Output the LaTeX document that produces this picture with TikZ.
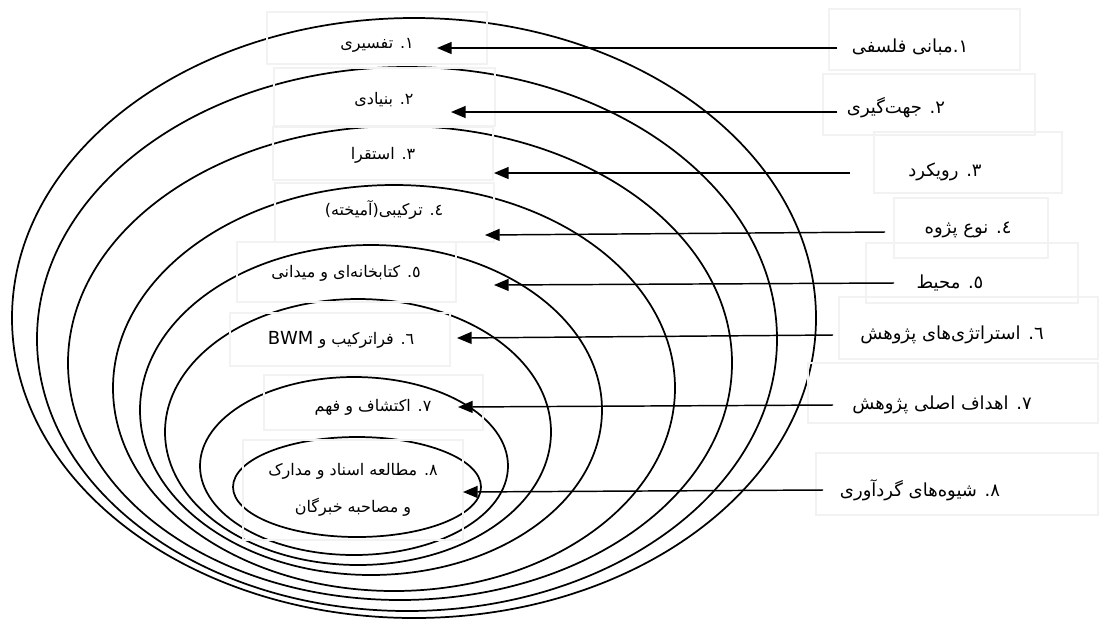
\documentclass[tikz,border=0pt]{standalone}
\usepackage{fontspec}
\newfontfamily\farsi[Script=Arabic]{DejaVu Sans}
\TeXXeTstate=1
\usetikzlibrary{arrows.meta}
\tikzset{onion/.style={line width=1.3pt},
	txtbox/.style={draw=black!5, line width=1.2pt},
	innertxt/.style={font=\farsi\fontsize{12}{14}\selectfont, inner sep=1pt, align=center},
	outertxt/.style={font=\farsi\fontsize{13.5}{16}\selectfont, inner sep=1pt},
	lnk/.style={->, line width=1.1pt, >={Triangle[length=11pt,width=9pt]}}}

\begin{document}
\begin{tikzpicture}[x=0.75pt,y=-0.75pt]
	\useasboundingbox (0,0) rectangle (1099,619);
	
	\draw[onion] (414,318) ellipse [x radius=301.5pt, y radius=225pt];
	\draw[onion] (407,339) ellipse [x radius=277.5pt, y radius=204pt];
	\draw[onion] (400,363) ellipse [x radius=249pt, y radius=177.75pt];
	\draw[onion] (394,388) ellipse [x radius=210.75pt, y radius=152.25pt];
	\draw[onion] (371,410) ellipse [x radius=173.25pt, y radius=123.75pt];
	\draw[onion] (358,432) ellipse [x radius=144.75pt, y radius=99.75pt];
	\draw[onion] (354,466) ellipse [x radius=115.5pt, y radius=66.75pt];
	\draw[onion] (357,487) ellipse [x radius=93pt, y radius=37.5pt];
	
	\draw[txtbox] (267,12) rectangle (487,64);
	\draw[txtbox] (274,68) rectangle (495,126);
	\draw[txtbox] (273,127) rectangle (493,180);
	\draw[txtbox] (275,183) rectangle (494,242);
	\draw[txtbox] (237,242) rectangle (456,302);
	\draw[txtbox] (230,313) rectangle (450,366);
	\draw[txtbox] (264,375) rectangle (483,430);
	\draw[txtbox] (243,440) rectangle (463,540);
	
	\draw[txtbox] (829,9) rectangle (1020,70);
	\draw[txtbox] (823,74) rectangle (1035,135);
	\draw[txtbox] (874,132) rectangle (1062,193);
	\draw[txtbox] (894,198) rectangle (1048,258);
	\draw[txtbox] (866,243) rectangle (1078,303);
	\draw[txtbox] (839,297) rectangle (1098,359);
	\draw[txtbox] (808,363) rectangle (1098,423);
	\draw[txtbox] (816,453) rectangle (1098,515);
	
	\node[innertxt] (l1) at (377,45) {\beginR ١. تفسیری\endR};
	\node[innertxt] (l2) at (384,100) {\beginR ٢. بنیادی\endR};
	\node[innertxt] (l3) at (383,155) {\beginR ٣. استقرا\endR};
	\node[innertxt] (l4) at (384,210) {\beginR ٤. ترکیبی(آمیخته)\endR};
	\node[innertxt] (l5) at (346,273) {\beginR ٥. کتابخانه‌ای و میدانی\endR};
	\node[innertxt] (l6) at (341,340) {\beginR ٦. فراترکیب و \beginL{\fontsize{13.5}{14}\selectfont BWM}\endL\endR};
	\node[innertxt] (l7) at (373,407) {\beginR ٧. اکتشاف و فهم\endR};
	\node[innertxt] (l8) at (353,490) {\beginR ٨. مطالعه اسناد و مدارک\endR\\[14pt]\beginR و مصاحبه خبرگان\endR};
	
	\node[outertxt] (r1) at (910,47) {\beginR ١.مبانی فلسفی\endR};
	\node[outertxt] (r2) at (896,108) {\beginR ٢. جهت‌گیری\endR};
	\node[outertxt] (r3) at (945,172) {\beginR ٣. رویکرد\endR};
	\node[outertxt] (r4) at (968,230) {\beginR ٤. نوع پژوه\endR};
	\node[outertxt] (r5) at (950,283) {\beginR ٥. محیط\endR};
	\node[outertxt] (r6) at (952,335) {\beginR ٦. استراتژی‌های پژوهش\endR};
	\node[outertxt] (r7) at (942,405) {\beginR ٧. اهداف اصلی پژوهش\endR};
	\node[outertxt] (r8) at (920,490) {\beginR ٨. شیوه‌های گردآوری\endR};
	
	\coordinate (s1) at (837,48);  \coordinate (e1) at (437,48);
	\coordinate (s2) at (837,112); \coordinate (e2) at (451,112);
	\coordinate (s3) at (850,173); \coordinate (e3) at (494,173);
	\coordinate (s4) at (885,232); \coordinate (e4) at (485,235);
	\coordinate (s5) at (894,283); \coordinate (e5) at (494,285);
	\coordinate (s6) at (833,335); \coordinate (e6) at (457,338);
	\coordinate (s7) at (833,405); \coordinate (e7) at (458,407);
	\coordinate (s8) at (823,490); \coordinate (e8) at (463,492);
	
	\draw[lnk] (s1) -- (e1);
	\draw[lnk] (s2) -- (e2);
	\draw[lnk] (s3) -- (e3);
	\draw[lnk] (s4) -- (e4);
	\draw[lnk] (s5) -- (e5);
	\draw[lnk] (s6) -- (e6);
	\draw[lnk] (s7) -- (e7);
	\draw[lnk] (s8) -- (e8);
\end{tikzpicture}
\end{document}
